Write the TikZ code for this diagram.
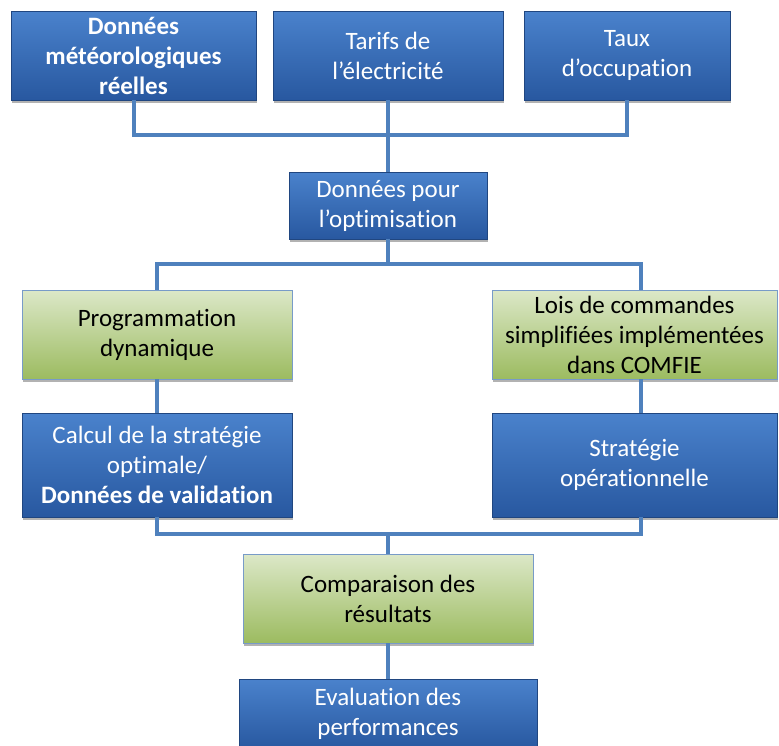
\documentclass[tikz,border=0pt]{standalone}
\usepackage{fontspec}
\setmainfont{Carlito}[Ligatures=NoCommon]
\usetikzlibrary{shadows}
\definecolor{btop}{RGB}{74,130,204}
\definecolor{bbot}{RGB}{40,88,160}
\definecolor{gtop}{RGB}{220,232,200}
\definecolor{gbot}{RGB}{156,187,96}
\definecolor{lnc}{RGB}{79,129,189}
\definecolor{gbrd}{RGB}{120,155,200}
\tikzset{
  base/.style={rectangle, inner sep=0pt, align=center, font=\fontsize{25}{30}\selectfont,
    drop shadow={shadow xshift=1pt, shadow yshift=-3pt, opacity=0.3, fill=black}},
  bluebox/.style={base, top color=btop, bottom color=bbot, draw=bbot!80!black, line width=0.6pt, text=white},
  greenbox/.style={base, top color=gtop, bottom color=gbot, draw=gbrd, line width=0.8pt, text=black},
  conn/.style={draw=lnc, line width=4pt}
}
\begin{document}
\begin{tikzpicture}[x=1pt,y=-1pt]
\useasboundingbox (0,0) rectangle (779,745);
\node[bluebox, minimum width=245pt, minimum height=89pt] (b1) at (133.5,55.5) {\bfseries Données\\\bfseries météorologiques\\\bfseries réelles};
\node[bluebox, minimum width=230pt, minimum height=89pt] (b2) at (388,55.5) {Tarifs de\\l’électricité};
\node[bluebox, minimum width=206pt, minimum height=89pt] (b3) at (627,55.5) {Taux\\d’occupation};
\node[bluebox, minimum width=198pt, minimum height=67pt] (b4) at (388,205.5) {Données pour\\l’optimisation};
\node[greenbox, minimum width=270pt, minimum height=89pt] (b5) at (157,334.5) {Programmation\\dynamique};
\node[greenbox, minimum width=285pt, minimum height=89pt] (b6) at (634.5,334.5) {Lois de commandes\\simplifiées implémentées\\dans COMFIE};
\node[bluebox, minimum width=270pt, minimum height=104pt] (b7) at (157,465) {Calcul de la stratégie\\optimale/\\\bfseries Données de validation};
\node[bluebox, minimum width=285pt, minimum height=104pt] (b8) at (634.5,465) {Stratégie\\opérationnelle};
\node[greenbox, minimum width=290pt, minimum height=89pt] (b9) at (388,598.5) {Comparaison des\\résultats};
\node[bluebox, minimum width=298pt, minimum height=70pt] (b10) at (388,714) {Evaluation des\\performances};
\coordinate (j1) at (388,135);
\coordinate (j2) at (388,264);
\coordinate (j3) at (388,534);
\draw[conn] (b1.south) |- (j1) -| (b3.south);
\draw[conn] (b2.south) -- (b4.north);
\draw[conn] (b4.south) -- (j2);
\draw[conn] (b5.north) |- (j2) -| ([xshift=6pt]b6.north);
\draw[conn] (b5.south) -- (b7.north);
\draw[conn] ([xshift=6pt]b6.south) -- ([xshift=6pt]b8.north);
\draw[conn] (b7.south) |- (j3) -| ([xshift=6pt]b8.south);
\draw[conn] (j3) -- (b9.north);
\draw[conn] (b9.south) -- (b10.north);
\end{tikzpicture}
\end{document}
